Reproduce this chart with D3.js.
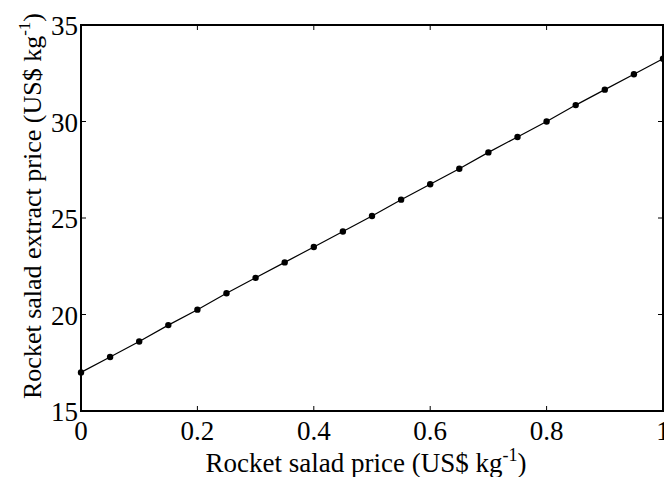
<!DOCTYPE html>
<html>
<head>
<meta charset="utf-8">
<script src="https://cdn.jsdelivr.net/npm/d3@7"></script>
</head>
<body style="margin:0">
<svg id="plot" width="664" height="477"></svg>
<script>
// Rocket salad price (US$/kg) vs. resulting extract price (US$/kg)
const saladPrice = [0, 0.05, 0.1, 0.15, 0.2, 0.25, 0.3, 0.35, 0.4, 0.45, 0.5,
                    0.55, 0.6, 0.65, 0.7, 0.75, 0.8, 0.85, 0.9, 0.95, 1.0];
const extractPrice = [17.0, 17.8, 18.6, 19.45, 20.25, 21.1, 21.9, 22.7, 23.5, 24.3, 25.1,
                      25.95, 26.75, 27.55, 28.4, 29.2, 30.0, 30.85, 31.65, 32.45, 33.25];
const xTicks = [0, 0.2, 0.4, 0.6, 0.8, 1];
const yTicks = [15, 20, 25, 30, 35];

const fontFam = '"Liberation Serif"';
const svg = d3.select("#plot");
const m = { left: 81, right: 663, top: 25, bottom: 411 };

const x = d3.scaleLinear().domain([0, 1]).range([m.left, m.right]);
const y = d3.scaleLinear().domain([15, 35]).range([m.bottom, m.top]);

const fs = 27;

// Inward ticks on all four sides
const tickLen = 5;
const axes = svg.append("g").attr("stroke", "#000").attr("stroke-width", 1);
xTicks.forEach(t => {
  axes.append("line").attr("x1", x(t)).attr("x2", x(t)).attr("y1", m.bottom).attr("y2", m.bottom - tickLen);
  axes.append("line").attr("x1", x(t)).attr("x2", x(t)).attr("y1", m.top).attr("y2", m.top + tickLen);
});
yTicks.forEach(t => {
  axes.append("line").attr("x1", m.left).attr("x2", m.left + tickLen).attr("y1", y(t)).attr("y2", y(t));
  axes.append("line").attr("x1", m.right).attr("x2", m.right - tickLen).attr("y1", y(t)).attr("y2", y(t));
});

// Plot frame
svg.append("rect")
  .attr("x", m.left).attr("y", m.top)
  .attr("width", m.right - m.left).attr("height", m.bottom - m.top)
  .attr("fill", "none").attr("stroke", "#000").attr("stroke-width", 2);

// Tick labels
const fmtX = d => (d === 0 || d === 1) ? String(d) : d.toFixed(1);
svg.append("g").selectAll("text").data(xTicks).join("text")
  .attr("font-size", fs)
  .style("font-family", fontFam)
  .attr("x", d => x(d)).attr("y", m.bottom + 29)
  .attr("text-anchor", "middle")
  .text(fmtX);

svg.append("g").selectAll("text").data(yTicks).join("text")
  .attr("font-size", fs)
  .style("font-family", fontFam)
  .attr("x", m.left - 3).attr("y", d => y(d) + 10)
  .attr("text-anchor", "end")
  .text(d => d);

// Data line and markers
const line = d3.line().x((d, i) => x(saladPrice[i])).y(d => y(d));
svg.append("path")
  .datum(extractPrice)
  .attr("d", line)
  .attr("fill", "none").attr("stroke", "#000").attr("stroke-width", 1.2);

svg.append("g").selectAll("circle").data(extractPrice).join("circle")
  .attr("cx", (d, i) => x(saladPrice[i])).attr("cy", d => y(d))
  .attr("r", 3.2).attr("fill", "#000");

// Axis titles
const xt = svg.append("text")
  .attr("font-size", fs)
  .style("font-family", fontFam)
  .attr("x", 366).attr("y", 472)
  .attr("text-anchor", "middle");
xt.append("tspan").text("Rocket salad price (US$ kg");
xt.append("tspan").attr("font-size", 18).attr("dy", -11).text("-1");
xt.append("tspan").attr("dy", 11).text(")");

const yt = svg.append("text")
  .attr("font-size", 26)
  .style("font-family", fontFam)
  .attr("transform", "translate(41, 206) rotate(-90)")
  .attr("text-anchor", "middle");
yt.append("tspan").text("Rocket salad extract price (US$ kg");
yt.append("tspan").attr("font-size", 17).attr("dy", -11).text("-1");
yt.append("tspan").attr("dy", 11).text(")");
</script>
</body>
</html>
